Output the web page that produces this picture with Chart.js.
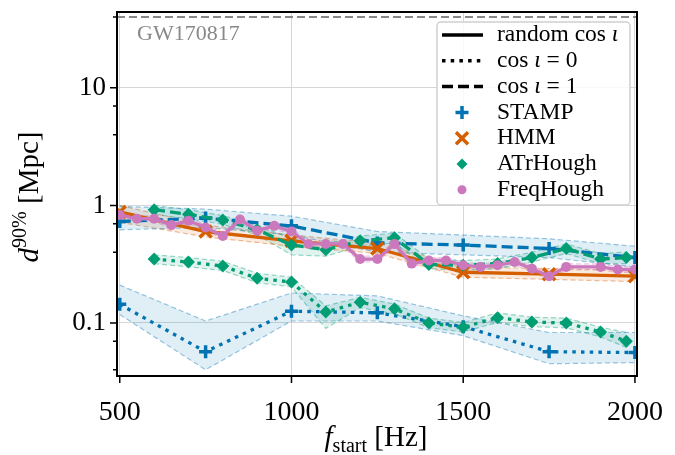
<!DOCTYPE html>
<html>
<head>
<meta charset="utf-8">
<script src="https://cdn.jsdelivr.net/npm/chart.js@4.4.1/dist/chart.umd.min.js"></script>
<style>
  html, body { margin: 0; padding: 0; background: #fff; }
</style>
</head>
<body>
<canvas id="sensitivity" width="675" height="455"></canvas>
<script>
// distance reach d^90% [Mpc] against start frequency, per pipeline
// faceOn = cos i = 1 (dashed), edgeOn = cos i = 0 (dotted), random = solid

const stampFreq = [500, 750, 1000, 1250, 1500, 1750, 2000];
const stampFaceOn = [0.73, 0.78, 0.67, 0.48, 0.46, 0.43, 0.36];
const stampFaceOnHi = [0.98, 0.93, 0.81, 0.60, 0.56, 0.52, 0.45];
const stampFaceOnLo = [0.62, 0.65, 0.56, 0.40, 0.38, 0.36, 0.30];
const stampEdgeOn = [0.144, 0.057, 0.126, 0.122, 0.093, 0.057, 0.056];
const stampEdgeOnHi = [0.21, 0.104, 0.18, 0.17, 0.115, 0.083, 0.083];
const stampEdgeOnLo = [0.118, 0.040, 0.104, 0.104, 0.078, 0.045, 0.046];

const hmmFreq = [500, 750, 1000, 1250, 1500, 1750, 2000];
const hmmRandom = [0.88, 0.60, 0.50, 0.43, 0.27, 0.26, 0.25];
const hmmRandomHi = [1.0, 0.68, 0.56, 0.48, 0.30, 0.29, 0.28];
const hmmRandomLo = [0.72, 0.54, 0.45, 0.39, 0.245, 0.235, 0.225];

const atrFreq = [600, 700, 800, 900, 1000, 1100, 1200, 1300, 1400, 1500, 1600, 1700, 1800, 1900, 1975];
const atrFaceOn = [0.92, 0.84, 0.75, 0.62, 0.46, 0.42, 0.50, 0.53, 0.315, 0.31, 0.32, 0.36, 0.43, 0.35, 0.36];
const atrFaceOnHi = [1.0, 0.92, 0.82, 0.68, 0.52, 0.47, 0.55, 0.58, 0.35, 0.34, 0.35, 0.40, 0.47, 0.39, 0.40];
const atrFaceOnLo = [0.84, 0.77, 0.69, 0.56, 0.38, 0.37, 0.45, 0.48, 0.29, 0.28, 0.29, 0.33, 0.39, 0.32, 0.32];
const atrEdgeOn = [0.35, 0.33, 0.305, 0.24, 0.223, 0.124, 0.15, 0.132, 0.10, 0.092, 0.111, 0.102, 0.10, 0.084, 0.07];
const atrEdgeOnHi = [0.38, 0.36, 0.335, 0.265, 0.245, 0.14, 0.165, 0.145, 0.11, 0.101, 0.122, 0.112, 0.11, 0.092, 0.083];
const atrEdgeOnLo = [0.32, 0.30, 0.28, 0.22, 0.203, 0.09, 0.135, 0.12, 0.091, 0.084, 0.101, 0.093, 0.091, 0.076, 0.062];

const freqFreq = [500, 550, 600, 650, 700, 750, 800, 850, 900, 950, 1000, 1050, 1100, 1150, 1200, 1250,
  1300, 1350, 1400, 1450, 1500, 1550, 1600, 1650, 1700, 1750, 1800, 1900, 1950, 2000];
const freqRandom = [0.83, 0.77, 0.77, 0.68, 0.74, 0.65, 0.55, 0.76, 0.61, 0.67, 0.60, 0.47, 0.47, 0.47, 0.35, 0.35,
  0.47, 0.32, 0.34, 0.34, 0.31, 0.30, 0.31, 0.33, 0.29, 0.25, 0.30, 0.30, 0.285, 0.285];

const gwDistance = 40;
const xTicks = [500, 1000, 1500, 2000];
const yMajor = [0.1, 1, 10];

const xMin = 492, xMax = 2006, yMin = 0.0354, yMax = 44.2;

const BLUE = '1,115,178', ORANGE = '213,94,0', GREEN = '2,158,115', PINK = '204,120,188';
const SERIF = '"Liberation Serif", "DejaVu Serif", serif';
const DOT = [3.5, 5.2], DASH = [11, 5];

const rgba = (c, a) => `rgba(${c},${a})`;
const pts = (xs, ys) => xs.map((x, i) => ({ x, y: ys[i] }));

function lineSet(label, xs, ys, color, dash, style, radius, order) {
  const filled = style === 'circle' || style === 'rectRot';
  return {
    label, data: pts(xs, ys), order,
    borderColor: rgba(color, 1), backgroundColor: rgba(color, 1),
    borderWidth: 3.3, borderDash: dash, fill: false, tension: 0,
    pointStyle: style, pointRadius: radius,
    pointBorderWidth: filled ? 0 : 3.5,
    pointBackgroundColor: rgba(color, 1), pointBorderColor: rgba(color, 1),
    pointHoverRadius: radius
  };
}

// upper edge + lower edge filled back to the upper one
function bandSets(xs, lo, hi, color, order) {
  const edge = {
    borderColor: rgba(color, 0.4), borderWidth: 1.2, borderDash: [5, 3],
    pointRadius: 0, tension: 0, order
  };
  return [
    Object.assign({ label: '', data: pts(xs, hi), fill: false }, edge),
    Object.assign({ label: '', data: pts(xs, lo), fill: '-1', backgroundColor: rgba(color, 0.12) }, edge)
  ];
}

const datasets = [
  {
    label: 'GW170817', data: [{ x: xMin, y: gwDistance }, { x: xMax, y: gwDistance }],
    borderColor: '#888', borderWidth: 2, borderDash: [8, 4], pointRadius: 0, fill: false, order: 30
  },
  ...bandSets(stampFreq, stampFaceOnLo, stampFaceOnHi, BLUE, 20),
  ...bandSets(stampFreq, stampEdgeOnLo, stampEdgeOnHi, BLUE, 20),
  ...bandSets(hmmFreq, hmmRandomLo, hmmRandomHi, ORANGE, 20),
  ...bandSets(atrFreq, atrFaceOnLo, atrFaceOnHi, GREEN, 20),
  ...bandSets(atrFreq, atrEdgeOnLo, atrEdgeOnHi, GREEN, 20),
  ...bandSets(freqFreq, freqRandom.map(v => v / 1.06), freqRandom.map(v => v * 1.06), PINK, 20),
  lineSet('STAMP', stampFreq, stampFaceOn, BLUE, DASH, 'cross', 6.5, 4),
  lineSet('STAMP', stampFreq, stampEdgeOn, BLUE, DOT, 'cross', 6.5, 4),
  lineSet('HMM', hmmFreq, hmmRandom, ORANGE, [], 'crossRot', 8.5, 3),
  lineSet('ATrHough', atrFreq, atrFaceOn, GREEN, DASH, 'rectRot', 6.5, 2),
  lineSet('ATrHough', atrFreq, atrEdgeOn, GREEN, DOT, 'rectRot', 6.5, 2),
  lineSet('FreqHough', freqFreq, freqRandom, PINK, [], 'circle', 5, 1)
];

// frame, tick marks, axis titles, legend and the GW170817 label
const decorations = {
  id: 'decorations',
  afterDraw(chart) {
    const { ctx, chartArea: a, scales: { x, y } } = chart;
    ctx.save();
    ctx.strokeStyle = '#000';
    ctx.lineWidth = 1.5;
    ctx.beginPath();
    xTicks.forEach(v => { const px = x.getPixelForValue(v); ctx.moveTo(px, a.bottom); ctx.lineTo(px, a.bottom + 7); });
    y.ticks.forEach(t => {
      const py = y.getPixelForValue(t.value);
      const len = yMajor.includes(t.value) ? 7 : 4;
      ctx.moveTo(a.left, py); ctx.lineTo(a.left - len, py);
    });
    ctx.stroke();
    ctx.lineWidth = 2;
    ctx.strokeRect(a.left, a.top, a.right - a.left, a.bottom - a.top);

    ctx.fillStyle = '#888';
    ctx.font = '22px ' + SERIF;
    ctx.textBaseline = 'middle';
    ctx.fillText('GW170817', a.left + 20, 34);

    // y title
    ctx.fillStyle = '#000';
    ctx.textBaseline = 'alphabetic';
    ctx.save();
    ctx.translate(38, 197);
    ctx.rotate(-Math.PI / 2);
    drawParts(ctx, [
      { t: 'd', f: 'italic 29px ' + SERIF, dy: 0 },
      { t: '90%', f: '20px ' + SERIF, dy: -12 },
      { t: ' [Mpc]', f: '29px ' + SERIF, dy: 0 }
    ]);
    ctx.restore();

    // x title
    ctx.save();
    ctx.translate(376, 446);
    drawParts(ctx, [
      { t: 'f', f: 'italic 29px ' + SERIF, dy: 0 },
      { t: 'start', f: '20px ' + SERIF, dy: 6 },
      { t: ' [Hz]', f: '29px ' + SERIF, dy: 0 }
    ]);
    ctx.restore();

    drawLegend(ctx);
    ctx.restore();
  }
};

function drawParts(ctx, parts) {
  let w = 0;
  parts.forEach(p => { ctx.font = p.f; p.w = ctx.measureText(p.t).width; w += p.w; });
  let cx = -w / 2;
  parts.forEach(p => { ctx.font = p.f; ctx.fillText(p.t, cx, p.dy); cx += p.w; });
}

function drawLegend(ctx) {
  const bx = 437, by = 22, bw = 193, bh = 183;
  ctx.beginPath();
  ctx.roundRect(bx, by, bw, bh, 4);
  ctx.fillStyle = 'rgba(255,255,255,0.85)';
  ctx.fill();
  ctx.strokeStyle = '#d0d0d0';
  ctx.lineWidth = 1.5;
  ctx.stroke();

  const rows = [
    { kind: 'line', dash: [], parts: [{ t: 'random cos ', f: '' }, { t: 'ι', f: 'italic ' }] },
    { kind: 'line', dash: DOT, parts: [{ t: 'cos ', f: '' }, { t: 'ι', f: 'italic ' }, { t: ' = 0', f: '' }] },
    { kind: 'line', dash: DASH, parts: [{ t: 'cos ', f: '' }, { t: 'ι', f: 'italic ' }, { t: ' = 1', f: '' }] },
    { kind: 'cross', color: BLUE, parts: [{ t: 'STAMP', f: '' }] },
    { kind: 'crossRot', color: ORANGE, parts: [{ t: 'HMM', f: '' }] },
    { kind: 'rectRot', color: GREEN, parts: [{ t: 'ATrHough', f: '' }] },
    { kind: 'circle', color: PINK, parts: [{ t: 'FreqHough', f: '' }] }
  ];
  rows.forEach((r, i) => {
    const ry = 35 + i * 25.8;
    if (r.kind === 'line') {
      ctx.strokeStyle = '#000';
      ctx.lineWidth = 3.5;
      ctx.setLineDash(r.dash);
      ctx.beginPath(); ctx.moveTo(442, ry); ctx.lineTo(483, ry); ctx.stroke();
      ctx.setLineDash([]);
    } else {
      const filled = r.kind === 'circle' || r.kind === 'rectRot';
      ctx.fillStyle = rgba(r.color, 1);
      ctx.strokeStyle = rgba(r.color, 1);
      ctx.lineWidth = filled ? 0 : 3.5;
      const rad = r.kind === 'crossRot' ? 8.5 : r.kind === 'cross' ? 6.5 : r.kind === 'rectRot' ? 5.5 : 4.5;
      Chart.helpers.drawPoint(ctx, { pointStyle: r.kind, radius: rad, rotation: 0, borderWidth: filled ? 0 : 3.5 }, 462, ry);
    }
    ctx.fillStyle = '#000';
    ctx.textBaseline = 'middle';
    let tx = 497;
    r.parts.forEach(p => {
      ctx.font = p.f + '23.5px ' + SERIF;
      ctx.fillText(p.t, tx, ry);
      tx += ctx.measureText(p.t).width;
    });
  });
}

new Chart(document.getElementById('sensitivity'), {
  type: 'line',
  data: { datasets },
  plugins: [decorations],
  options: {
    responsive: false,
    animation: false,
    layout: { padding: { left: 0, top: 12, right: 38, bottom: 0 } },
    plugins: { legend: { display: false }, tooltip: { enabled: false } },
    scales: {
      x: {
        type: 'linear', min: xMin, max: xMax,
        afterBuildTicks: s => { s.ticks = xTicks.map(v => ({ value: v })); },
        afterFit: s => { s.height = 79; s.paddingLeft = 0; s.paddingRight = 0; },
        grid: { color: '#d6d6d6', lineWidth: 1, drawTicks: false },
        border: { display: false },
        ticks: {
          color: '#000', padding: 20, font: { family: SERIF, size: 28 }, maxRotation: 0,
          callback: v => String(v)
        }
      },
      y: {
        type: 'logarithmic', min: yMin, max: yMax,
        afterBuildTicks: s => {
          const vals = [];
          [0.01, 0.1, 1, 10].forEach(d => {
            for (let k = 1; k <= 9; k++) {
              const v = +(k * d).toPrecision(3);
              if (v >= yMin && v <= yMax) vals.push(v);
            }
          });
          s.ticks = vals.map(v => ({ value: v }));
        },
        afterFit: s => { s.width = 117; s.paddingTop = 0; s.paddingBottom = 0; },
        grid: {
          color: c => (yMajor.includes(c.tick && c.tick.value) ? '#d6d6d6' : 'rgba(0,0,0,0)'),
          lineWidth: 1, drawTicks: false
        },
        border: { display: false },
        ticks: {
          color: '#000', padding: 11, font: { family: SERIF, size: 27 },
          callback: v => (yMajor.includes(v) ? String(v) : '')
        }
      }
    }
  }
});
</script>
</body>
</html>
